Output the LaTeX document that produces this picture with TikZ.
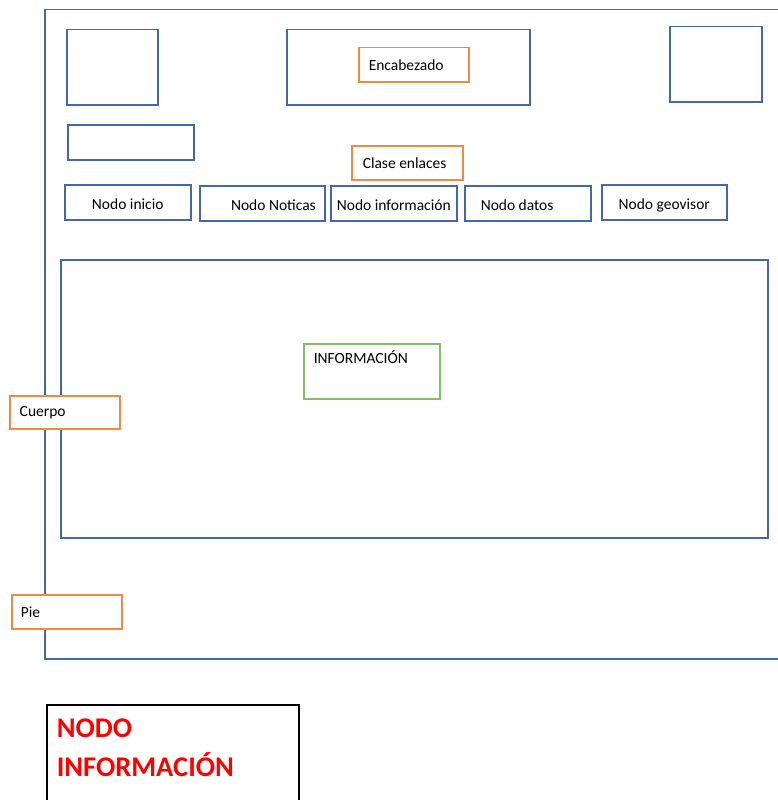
\documentclass[tikz,border=0pt]{standalone}
\usepackage{fontspec}
\setmainfont{Carlito}
\definecolor{marco}{HTML}{4568AC}
\definecolor{naranja}{HTML}{EE8A45}
\definecolor{verde}{HTML}{86BE63}
\definecolor{rojo}{HTML}{FF0000}

\begin{document}
\begin{tikzpicture}[x=1pt,y=-1pt]
	\tikzstyle{every node}+=[inner sep=0pt, anchor=north west, font=\fontsize{15.5}{18}\selectfont]
	\tikzstyle{caja}=[draw=marco, line width=1.5pt]
	\tikzstyle{nodo}=[caja, minimum width=126, minimum height=35, text height=14, text depth=0]
	\tikzstyle{etiqueta}=[draw=naranja, line width=1.5pt, fill=white, align=flush left, inner xsep=10]
	\useasboundingbox (0,0) rectangle (778,800);
	\clip (0,0) rectangle (778,800);
	\node [caja, minimum width=760, minimum height=649] (pagina) at (44,9) {};
	\node [caja, minimum width=91, minimum height=75] (logo) at (66,29) {};
	\node [caja, minimum width=243, minimum height=75] (cabecera) at (286,29) {};
	\node [etiqueta, minimum height=34, text width=90] (encabezado) at (358,47) {Encabezado};
	\node [caja, minimum width=92, minimum height=75] (escudo) at (669,26) {};
	\node [caja, minimum width=126, minimum height=35] (buscador) at (67,124) {};
	\node [etiqueta, minimum height=34, inner xsep=11, text width=89] (enlaces) at (351,145) {Clase enlaces};
	\node [nodo] (inicio) at (64,184) {Nodo inicio};
	\node [nodo, minimum width=125, inner xsep=9, text width=107, align=flush right] (noticas) at (199,185) {Nodo Noticas};
	\node [nodo] (informacion) at (330,185) {Nodo información};
	\node [nodo, inner xsep=16, text width=94, align=flush left] (datos) at (464,185) {Nodo datos};
	\node [nodo, minimum width=125] (geovisor) at (601,184) {Nodo geovisor};
	\node [caja, minimum width=707, minimum height=278] (cuerpo) at (60,259) {};
	\node [draw=verde, line width=1.5pt, align=flush left, inner xsep=10, inner ysep=10, text width=116, text height=10, text depth=25] (info) at (303,343) {INFORMACIÓN};
	\node [etiqueta, minimum height=33, text width=90] (lcuerpo) at (9,395) {Cuerpo};
	\node [etiqueta, minimum height=34, inner xsep=9, text width=92] (pie) at (11,594) {Pie};
	\node [draw=black, line width=1.5pt, align=flush left, inner xsep=10, text width=232, text height=33, text depth=73, text=rojo, font=\bfseries\fontsize{28.5}{39}\selectfont] (nodoinfo) at (46,704) {NODO\\INFORMACIÓN};
\end{tikzpicture}
\end{document}
